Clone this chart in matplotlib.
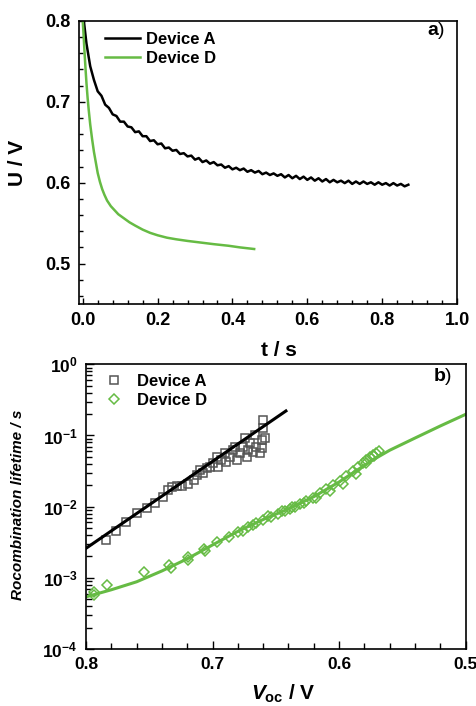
import numpy as np
import matplotlib
matplotlib.use('Agg')
import matplotlib.pyplot as plt
from matplotlib.ticker import MultipleLocator, FixedLocator, FixedFormatter, LogLocator, NullFormatter

plt.rcParams['font.family'] = ['Liberation Sans', 'DejaVu Sans']
plt.rcParams['font.weight'] = 'bold'
plt.rcParams['mathtext.fontset'] = 'custom'
plt.rcParams['mathtext.rm'] = 'Liberation Sans'
plt.rcParams['mathtext.bf'] = 'Liberation Sans:bold'
plt.rcParams['mathtext.it'] = 'Liberation Sans:italic:bold'

GREEN = '#66bb44'
GRAY = '#555555'

# ---- panel a: voltage decay ----
t_a = [0.003, 0.01, 0.02, 0.03, 0.04,
       0.05, 0.06, 0.07, 0.08, 0.09, 0.10, 0.11, 0.12, 0.13, 0.14,
       0.15, 0.16, 0.17, 0.18, 0.19, 0.20, 0.21, 0.22, 0.23, 0.24,
       0.25, 0.26, 0.27, 0.28, 0.29, 0.30, 0.31, 0.32, 0.33, 0.34,
       0.35, 0.36, 0.37, 0.38, 0.39, 0.40, 0.41, 0.42, 0.43, 0.44,
       0.45, 0.46, 0.47, 0.48, 0.49, 0.50, 0.51, 0.52, 0.53, 0.54,
       0.55, 0.56, 0.57, 0.58, 0.59, 0.60, 0.61, 0.62, 0.63, 0.64,
       0.65, 0.66, 0.67, 0.68, 0.69, 0.70, 0.71, 0.72, 0.73, 0.74,
       0.75, 0.76, 0.77, 0.78, 0.79, 0.80, 0.81, 0.82, 0.83, 0.84,
       0.85, 0.86, 0.87]
u_a = [0.800, 0.772, 0.744, 0.727, 0.713,
       0.7075, 0.6965, 0.6925, 0.6845, 0.6825, 0.6755, 0.6755, 0.6695, 0.6685, 0.6625,
       0.6635, 0.6575, 0.6575, 0.6515, 0.6525, 0.6475, 0.6485, 0.6425, 0.6435, 0.6395,
       0.6405, 0.6355, 0.6365, 0.6325, 0.6335, 0.6285, 0.6305, 0.6255, 0.6275, 0.6235,
       0.6255, 0.6215, 0.6225, 0.6185, 0.6205, 0.6165, 0.6185, 0.6155, 0.6175, 0.6135,
       0.6155, 0.6125, 0.6145, 0.6105, 0.6125, 0.6095, 0.6115, 0.6085, 0.6105, 0.6065,
       0.6095, 0.6055, 0.6085, 0.6045, 0.6075, 0.6035, 0.6065, 0.6025, 0.6055, 0.6015,
       0.6045, 0.6005, 0.6035, 0.6005, 0.6025, 0.5995, 0.6025, 0.5985, 0.6015, 0.5985,
       0.6015, 0.5985, 0.6005, 0.5975, 0.6005, 0.5975, 0.5995, 0.5965, 0.5995, 0.5965,
       0.5985, 0.5955, 0.5975]

t_d = [0.0, 0.002, 0.004, 0.006, 0.008, 0.010, 0.013, 0.016, 0.020, 0.025,
       0.030, 0.035, 0.040, 0.046, 0.052, 0.058, 0.065, 0.075, 0.085, 0.095,
       0.11, 0.125, 0.14, 0.16, 0.18, 0.20, 0.225, 0.25, 0.28, 0.315,
       0.35, 0.39, 0.42, 0.458]
u_d = [0.800, 0.785, 0.768, 0.752, 0.737, 0.723, 0.705, 0.690, 0.672, 0.654,
       0.638, 0.625, 0.612, 0.601, 0.592, 0.585, 0.578, 0.571, 0.566, 0.561,
       0.556, 0.551, 0.547, 0.542, 0.538, 0.535, 0.532, 0.530, 0.528, 0.526,
       0.524, 0.522, 0.520, 0.518]

# ---- panel b: recombination lifetime ----
voc_a = [0.784, 0.776, 0.768, 0.760, 0.752, 0.7455, 0.739, 0.735, 0.7324, 0.7284,
         0.7245, 0.719, 0.715, 0.7126, 0.710, 0.7074, 0.7047, 0.702, 0.6995, 0.6968,
         0.6955, 0.693, 0.690, 0.689, 0.6863, 0.6837, 0.6824, 0.681, 0.6784, 0.676,
         0.6745, 0.673, 0.6718, 0.6705, 0.668, 0.6666, 0.6653, 0.6626, 0.6613, 0.660,
         0.660, 0.6587, 0.6613]
tau_a = [3.4e-3, 4.5e-3, 6.1e-3, 8.1e-3, 9.5e-3, 0.0111, 0.0138, 0.0171, 0.0191, 0.0197,
         0.0197, 0.0208, 0.0237, 0.0279, 0.0327, 0.0294, 0.0346, 0.0365, 0.0406, 0.0504,
         0.0365, 0.0453, 0.0561, 0.0429, 0.0504, 0.0625, 0.0697, 0.0453, 0.0561, 0.0697,
         0.0912, 0.0504, 0.0625, 0.0776, 0.0593, 0.1016, 0.0697, 0.0561, 0.0865, 0.126,
         0.165, 0.0912, 0.066]

fit_a_v = [0.800, 0.642]
fit_a_tau = [2.6e-3, 0.221]

voc_d = [0.7934, 0.794, 0.7837, 0.7542, 0.7342, 0.733, 0.7192, 0.719, 0.7068, 0.706,
         0.6963, 0.6868, 0.6797, 0.6718, 0.6653, 0.660, 0.6534, 0.6482, 0.6429, 0.639,
         0.635, 0.631, 0.6258, 0.6205, 0.6153, 0.61, 0.6047, 0.5995, 0.5942, 0.589,
         0.585, 0.581, 0.5784, 0.5758, 0.5732, 0.5705, 0.5684,
         0.676, 0.668, 0.656, 0.645, 0.637, 0.628, 0.618, 0.607, 0.597, 0.587, 0.579, 0.572]
tau_d = [6.4e-4, 5.7e-4, 7.9e-4, 1.22e-3, 1.51e-3, 1.36e-3, 1.94e-3, 1.78e-3, 2.51e-3, 2.35e-3,
         3.22e-3, 3.78e-3, 4.45e-3, 5.13e-3, 5.83e-3, 6.5e-3, 7.2e-3, 7.9e-3, 8.6e-3, 9.4e-3,
         0.01, 0.0108, 0.0119, 0.0134, 0.0154, 0.0175, 0.02, 0.023, 0.027, 0.032,
         0.0365, 0.0406, 0.0453, 0.0493, 0.0532, 0.0574, 0.0612,
         4.6e-3, 5.6e-3, 7.4e-3, 8.6e-3, 9.9e-3, 0.0113, 0.0133, 0.0166, 0.0205, 0.0285, 0.041, 0.052]

fit_d_v = [0.80, 0.78, 0.76, 0.74, 0.72, 0.70, 0.68, 0.66, 0.64, 0.62,
           0.60, 0.58, 0.57, 0.56, 0.54, 0.52, 0.50]
fit_d_tau = [5.4e-4, 6.8e-4, 8.8e-4, 1.25e-3, 1.85e-3, 2.9e-3, 4.5e-3, 6.6e-3, 9.3e-3, 0.0138,
             0.0222, 0.038, 0.049, 0.062, 0.092, 0.136, 0.198]

ytick_vals_b = [1e-4, 1e-3, 1e-2, 1e-1, 1e0]
ytick_labels_b = [r'$\mathbf{10^{-4}}$', r'$\mathbf{10^{-3}}$', r'$\mathbf{10^{-2}}$',
                  r'$\mathbf{10^{-1}}$', r'$\mathbf{10^{0}}$']


def style_ticks(ax, major_len=4.5, minor_len=3, labelsize=13):
    ax.tick_params(which='both', direction='in', top=False, right=False, width=1)
    ax.tick_params(which='major', length=major_len, labelsize=labelsize, pad=6)
    ax.tick_params(which='minor', length=minor_len)
    for s in ax.spines.values():
        s.set_linewidth(1.2)


fig = plt.figure(figsize=(4.77, 7.06), dpi=100)

# panel a
ax1 = fig.add_axes([0.1656, 0.5694, 0.7925, 0.4009])
ax1.plot(t_a, u_a, color='black', lw=1.8, label='Device A')
ax1.plot(t_d, u_d, color=GREEN, lw=1.8, label='Device D')
ax1.set_xlim(-0.01, 1.0)
ax1.set_ylim(0.45, 0.8)
ax1.xaxis.set_major_locator(FixedLocator([0.0, 0.2, 0.4, 0.6, 0.8, 1.0]))
ax1.xaxis.set_minor_locator(MultipleLocator(0.04))
ax1.yaxis.set_major_locator(FixedLocator([0.5, 0.6, 0.7, 0.8]))
ax1.yaxis.set_minor_locator(MultipleLocator(0.02))
style_ticks(ax1)
ax1.set_xlabel('t / s', fontsize=15, fontweight='bold')
ax1.set_ylabel('U / V', fontsize=15, fontweight='bold')
ax1.xaxis.set_label_coords(0.53, -0.13)
ax1.yaxis.set_label_coords(-0.138, 0.5)
ax1.legend(loc='upper left', bbox_to_anchor=(0.03, 1.015), frameon=False,
           fontsize=12, handlelength=2.1, handletextpad=0.35, labelspacing=0.25)
ax1.text(0.968, 0.965, r'$\mathbf{a}$)', transform=ax1.transAxes, ha='right', va='center',
         fontsize=14, fontweight='normal')

# panel b
ax2 = fig.add_axes([0.1803, 0.0807, 0.7958, 0.4033])
ax2.set_yscale('log')
ax2.plot(voc_a, tau_a, ls='none', marker='s', ms=6, mfc='none', mec=GRAY, mew=1.1,
         label='Device A')
ax2.plot(fit_a_v, fit_a_tau, color='black', lw=2.2)
ax2.plot(voc_d, tau_d, ls='none', marker='D', ms=5.5, mfc='none', mec=GREEN, mew=1.1,
         label='Device D')
ax2.plot(fit_d_v, fit_d_tau, color=GREEN, lw=2.2)
ax2.set_xlim(0.8, 0.5)
ax2.set_ylim(1e-4, 1)
ax2.xaxis.set_major_locator(FixedLocator([0.8, 0.7, 0.6, 0.5]))
ax2.xaxis.set_major_formatter(FixedFormatter(['0.8', '0.7', '0.6', '0.5']))
ax2.xaxis.set_minor_locator(MultipleLocator(0.02))
ax2.yaxis.set_major_locator(FixedLocator(ytick_vals_b))
ax2.yaxis.set_major_formatter(FixedFormatter(ytick_labels_b))
ax2.yaxis.set_minor_locator(LogLocator(base=10, subs=np.arange(2, 10), numticks=20))
ax2.yaxis.set_minor_formatter(NullFormatter())
style_ticks(ax2, major_len=6, minor_len=4.5, labelsize=12.5)
ax2.set_xlabel(r'$\mathit{V}_{\mathbf{oc}}$ / V', fontsize=15, fontweight='bold')
ax2.set_ylabel('Rocombination lifetime / s', fontsize=11, fontweight='bold', fontstyle='italic')
ax2.xaxis.set_label_coords(0.52, -0.118)
ax2.yaxis.set_label_coords(-0.161, 0.507)
ax2.legend(loc='upper left', bbox_to_anchor=(0.0, 1.02), frameon=False,
           fontsize=12, handlelength=1.6, handletextpad=0.55, labelspacing=0.25,
           numpoints=1, markerscale=0.85)
ax2.text(0.964, 0.957, r'$\mathbf{b}$)', transform=ax2.transAxes, ha='right', va='center',
         fontsize=14, fontweight='normal')

fig.savefig('out.png', dpi=100)
